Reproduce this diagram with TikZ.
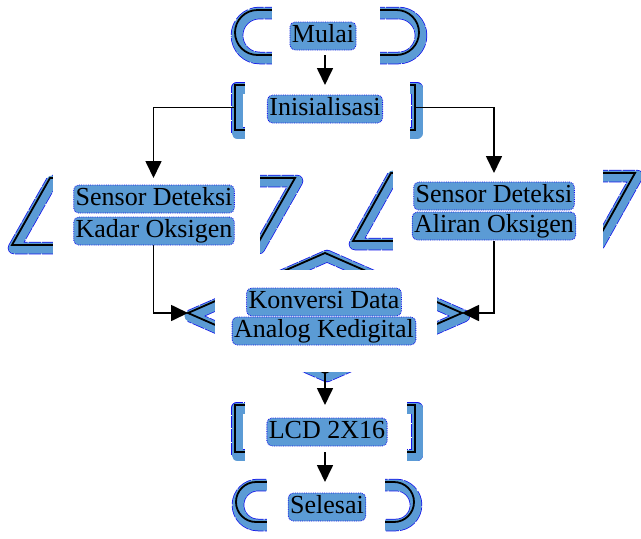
\documentclass[tikz,border=0pt]{standalone}
\usepackage{fontspec}
\setmainfont{Liberation Serif}
\usetikzlibrary{arrows.meta,calc}
\definecolor{bandblue}{RGB}{91,155,213}
\definecolor{edgeblue}{RGB}{20,20,235}
\begin{document}
\begin{tikzpicture}[x=1pt,y=-1pt,
  box/.style={draw=none,fill=none,inner sep=0pt,outer sep=0pt},
  shadeedge/.style={draw=edgeblue,densely dotted,line width=12.5pt,line join=round,transform canvas={shift={(2pt,-3pt)}}},
  shade/.style={draw=bandblue,line width=11pt,line join=round,transform canvas={shift={(2pt,-3pt)}}},
  outline/.style={draw=black,line width=1.8pt},
  cover/.style={fill=white},
  lbl/.style={fill=bandblue,draw=edgeblue,densely dotted,line width=0.8pt,rounded corners=5pt,inner sep=2pt,
    font=\fontsize{26}{30}\selectfont,text=black,text height=18pt,text depth=6pt},
  conn/.style={draw=black,line width=1.7pt},
  arr/.style={conn,-{Triangle[length=17pt,width=16pt]}}]
\useasboundingbox (0,0) rectangle (641,539);
% invisible frames of the shapes
\node[box,minimum width=184pt,minimum height=45pt] (mulai) at (327,32.5) {};
\node[box,minimum width=180pt,minimum height=45pt] (init) at (325,107.5) {};
\node[box,minimum width=283pt,minimum height=67pt] (kadar) at (153.5,211.5) {};
\node[box,minimum width=282pt,minimum height=68pt] (aliran) at (494,207) {};
\node[box,minimum width=274pt,minimum height=120pt] (konv) at (325,313) {};
\node[box,minimum width=180pt,minimum height=47pt] (lcd) at (325,428.5) {};
\node[box,minimum width=178pt,minimum height=40pt] (selesai) at (325,502) {};
% shadow edges
\draw[shadeedge,rounded corners=22.5pt] (mulai.south west) rectangle (mulai.north east);
\draw[shadeedge] (init.south west) rectangle (init.north east);
\draw[shadeedge] ($(kadar.north west)+(38,0)$) -- (kadar.north east) -- ($(kadar.south east)+(-38,0)$) -- (kadar.south west) -- cycle;
\draw[shadeedge] ($(aliran.north west)+(38,0)$) -- (aliran.north east) -- ($(aliran.south east)+(-38,0)$) -- (aliran.south west) -- cycle;
\draw[shadeedge] (konv.west) -- (konv.north) -- (konv.east) -- (konv.south) -- cycle;
\draw[shadeedge] (lcd.south west) rectangle (lcd.north east);
\draw[shadeedge,rounded corners=20pt] (selesai.south west) rectangle (selesai.north east);
% shadows
\draw[shade,rounded corners=22.5pt] (mulai.south west) rectangle (mulai.north east);
\draw[shade] (init.south west) rectangle (init.north east);
\draw[shade] ($(kadar.north west)+(38,0)$) -- (kadar.north east) -- ($(kadar.south east)+(-38,0)$) -- (kadar.south west) -- cycle;
\draw[shade] ($(aliran.north west)+(38,0)$) -- (aliran.north east) -- ($(aliran.south east)+(-38,0)$) -- (aliran.south west) -- cycle;
\draw[shade] (konv.west) -- (konv.north) -- (konv.east) -- (konv.south) -- cycle;
\draw[shade] (lcd.south west) rectangle (lcd.north east);
\draw[shade,rounded corners=20pt] (selesai.south west) rectangle (selesai.north east);
% outlines
\draw[outline,rounded corners=22.5pt] (mulai.south west) rectangle (mulai.north east);
\draw[outline] (init.south west) rectangle (init.north east);
\draw[outline] ($(kadar.north west)+(38,0)$) -- (kadar.north east) -- ($(kadar.south east)+(-38,0)$) -- (kadar.south west) -- cycle;
\draw[outline] ($(aliran.north west)+(38,0)$) -- (aliran.north east) -- ($(aliran.south east)+(-38,0)$) -- (aliran.south west) -- cycle;
\draw[outline] (konv.west) -- (konv.north) -- (konv.east) -- (konv.south) -- cycle;
\draw[outline] (lcd.south west) rectangle (lcd.north east);
\draw[outline,rounded corners=20pt] (selesai.south west) rectangle (selesai.north east);
% white covers
\fill[cover] (272,0) rectangle (380,72);
\fill[cover] (245,76) rectangle (410,140);
\fill[cover] (53,165) rectangle (260,258);
\fill[cover] (393,160) rectangle (603,256);
\fill[cover] (215,270) rectangle (437,372);
\fill[cover] (245,395) rectangle (407,462);
\fill[cover] (267,470) rectangle (385,539);
% connectors
\draw[arr] (init.north |- mulai.south) -- (init.north);
\draw[arr] (init.west) -| (kadar.north);
\draw[arr] (init.east) -| (aliran.north);
\draw[arr] (kadar.south) |- (konv.west);
\draw[arr] (aliran.south) |- (konv.east);
\draw[arr] (konv.south) -- (lcd.north);
\draw[arr] (lcd.south) -- (selesai.north);
% labels
\node[lbl] (tmulai) at (323,36) {Mulai};
\node[lbl] (tinit) at (325,109) {Inisialisasi};
\node[lbl] (tkadarA) at (154,199) {Sensor Deteksi};
\node[lbl] (tkadarB) at (154,231) {Kadar Oksigen};
\node[lbl] (taliranA) at (494,196) {Sensor Deteksi};
\node[lbl] (taliranB) at (494,226) {Aliran Oksigen};
\node[lbl] (tkonvA) at (324,302) {Konversi Data};
\node[lbl] (tkonvB) at (324,331) {Analog Kedigital};
\node[lbl] (tlcd) at (327,432) {LCD 2X16};
\node[lbl] (tselesai) at (327,507) {Selesai};
\end{tikzpicture}
\end{document}
